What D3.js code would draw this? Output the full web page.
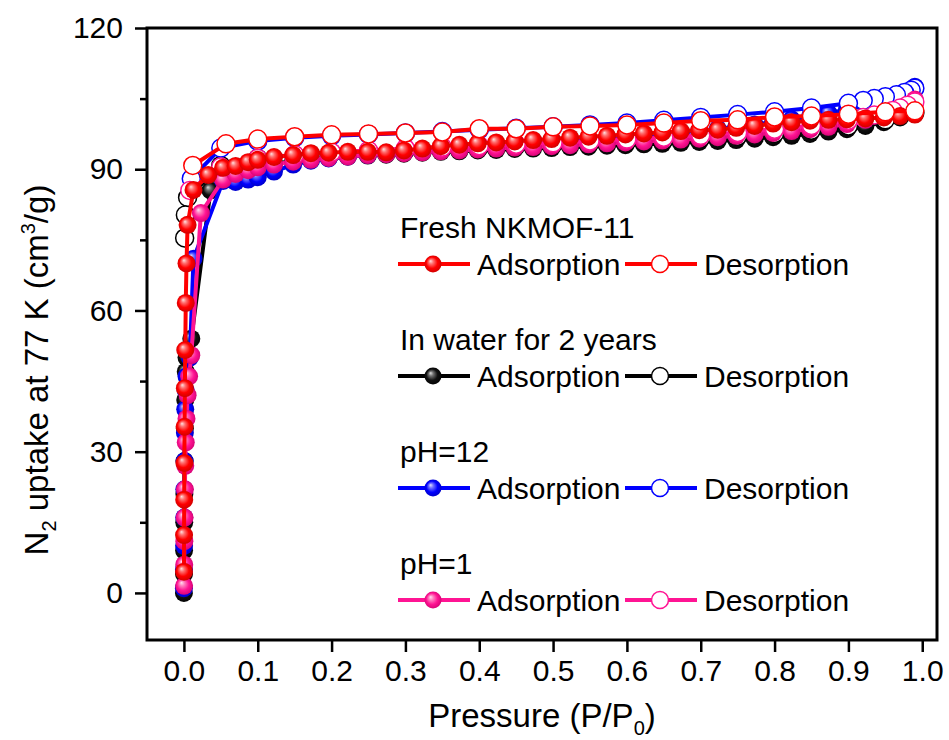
<!DOCTYPE html>
<html>
<head>
<meta charset="utf-8">
<script src="https://cdn.jsdelivr.net/npm/d3@7"></script>
<style>
  html, body { margin: 0; padding: 0; background: #fff; }
  svg { display: block; }
  text { font-family: "Liberation Sans", Arial, sans-serif; fill: #000; }
</style>
</head>
<body>
<svg id="chart" width="949" height="740"></svg>
<script>
// ---------------- DATA ----------------
const xTicks = [0.0, 0.1, 0.2, 0.3, 0.4, 0.5, 0.6, 0.7, 0.8, 0.9, 1.0];
const yTicks = [0, 30, 60, 90, 120];
const yMinorTicks = [15, 45, 75, 105];

const adsMidP = [0.053,0.07,0.087,0.1,0.122,0.148,0.172,0.196,0.222,0.249,0.274,0.298,0.323,0.348,0.373,0.398,0.423,0.448,0.473,0.498,0.523,0.548,0.573,0.598,0.623,0.648,0.673,0.698,0.723,0.748,0.773,0.798,0.823,0.848,0.873,0.898,0.923,0.948,0.97,0.99];

// Fresh NKMOF-11
const freshAdsP = [0.0001,0.0002,0.0004,0.0006,0.0009,0.0013,0.0018,0.0025,0.0035,0.005,0.013,0.033].concat(adsMidP);
const freshAdsV = [4.5,12.3,19.8,27.6,35.3,43.5,51.6,61.6,70.0,78.2,85.6,88.8,
  90.3,90.7,91.5,92.0,92.6,93.0,93.4,93.5,93.7,93.7,93.6,94.0,94.4,94.9,95.2,95.5,95.7,95.9,96.2,96.4,96.7,96.9,97.1,97.4,97.6,97.8,98.1,98.3,98.4,98.8,99.2,99.7,100.0,100.3,100.5,100.6,100.8,101.0,101.3,101.6];
const freshDesP = [0.99,0.95,0.9,0.85,0.8,0.75,0.7,0.65,0.6,0.55,0.5,0.45,0.4,0.35,0.3,0.25,0.2,0.15,0.1,0.057,0.012];
const freshDesV = [102.4,102.2,101.7,101.3,101.1,100.5,100.3,99.8,99.4,99.2,99.0,98.6,98.6,97.9,97.7,97.5,97.3,96.9,96.4,95.4,90.8];

// In water for 2 years
const waterAdsP = [0,0.0001,0.0002,0.0004,0.0006,0.0009,0.0013,0.0018,0.0025,0.0035,0.01,0.036].concat(adsMidP);
const waterAdsV = [0,4,9,15,21,28,35,41,47,50,54,85.5,
  88.0,89.0,90.0,90.6,91.2,91.7,92.1,92.4,92.7,92.9,93.1,93.3,93.5,93.7,93.8,94.0,94.1,94.3,94.4,94.5,94.7,94.8,95.0,95.1,95.3,95.4,95.6,95.8,96.0,96.2,96.5,96.8,97.1,97.5,98.0,98.5,99.2,100.0,101.0,102.0];
const waterDesP = [0.99,0.95,0.9,0.85,0.8,0.75,0.7,0.65,0.6,0.55,0.5,0.45,0.4,0.35,0.3,0.25,0.2,0.15,0.1,0.05,0.005,0.002,0.001];
const waterDesV = [102.0,100.5,99.2,98.3,97.6,97.0,96.6,96.2,95.9,95.6,95.3,95.0,94.7,94.4,94.1,93.8,93.5,93.0,92.3,90.8,84.0,80.3,75.4];

// pH=12
const ph12AdsP = [0,0.0001,0.0002,0.0004,0.0006,0.0009,0.0013,0.0018,0.0025,0.0035,0.008,0.013].concat(adsMidP);
const ph12AdsV = [1,5,10,16,22,28,34,39,43,46,50,71,
  87.5,87.3,87.8,88.3,89.5,91.0,91.8,92.3,92.7,93.0,93.3,93.6,93.9,94.2,94.5,94.8,95.0,95.3,95.5,95.8,96.0,96.3,96.6,96.9,97.2,97.5,97.8,98.2,98.6,99.0,99.5,100.0,100.6,101.2,101.9,102.7,103.6,104.6,105.8,107.5];
const ph12DesP = [0.99,0.985,0.976,0.965,0.95,0.935,0.92,0.9,0.85,0.8,0.75,0.7,0.65,0.6,0.55,0.5,0.45,0.4,0.35,0.3,0.25,0.2,0.15,0.1,0.05,0.01];
const ph12DesV = [107.2,106.8,106.3,105.8,105.4,105.0,104.6,104.0,103.0,102.2,101.6,101.0,100.4,99.8,99.4,99.0,98.7,98.4,98.0,97.7,97.4,97.1,96.7,96.0,94.5,88.0];

// pH=1
const ph1AdsP = [0.0002,0.0004,0.0006,0.0009,0.0013,0.0018,0.0025,0.0035,0.005,0.007,0.01,0.023].concat(adsMidP);
const ph1AdsV = [1.5,6,11,16,22,27,32,37,42,46,50.5,80.7,
  87.8,89.0,89.8,90.4,91.0,91.6,92.0,92.4,92.7,93.0,93.2,93.4,93.6,93.8,94.0,94.2,94.4,94.6,94.7,94.9,95.1,95.3,95.5,95.7,95.9,96.1,96.3,96.5,96.8,97.1,97.4,97.7,98.1,98.5,99.0,99.6,100.5,101.6,103.0,104.8];
const ph1DesP = [0.99,0.98,0.97,0.96,0.95,0.935,0.92,0.9,0.85,0.8,0.75,0.7,0.65,0.6,0.55,0.5,0.45,0.4,0.35,0.3,0.25,0.2,0.15,0.1,0.05,0.008];
const ph1DesV = [104.3,103.6,103.0,102.5,102.0,101.5,101.0,100.4,99.3,98.5,97.8,97.2,96.8,96.4,96.0,95.6,95.3,95.0,94.7,94.4,94.0,93.6,93.1,92.3,90.5,85.5];

const groupNames = ["Fresh NKMOF-11", "In water for 2 years", "pH=12", "pH=1"];
const groupColors = ["#ff0000", "#000000", "#0000ff", "#ff1493"];
const branchLabels = ["Adsorption", "Desorption"];

// ---------------- LAYOUT ----------------
const svg = d3.select("#chart");
const x = d3.scaleLinear().domain([-0.05, 1.02]).range([147, 937]);
const y = d3.scaleLinear().domain([-10, 120]).range([640, 28]);

// gradients
const defs = svg.append("defs");
const gradStops = {
  "#ff0000": ["#ffe0e0", "#ff7070", "#ff0000", "#c80000"],
  "#000000": ["#e0e0e0", "#707070", "#101010", "#000000"],
  "#0000ff": ["#e0e0ff", "#7070ff", "#0000ff", "#0000c0"],
  "#ff1493": ["#ffe0f0", "#ff80c0", "#ff1493", "#d00070"]
};
groupColors.forEach((c, i) => {
  const g = defs.append("radialGradient").attr("id", "g" + i)
    .attr("cx", "50%").attr("cy", "50%").attr("r", "55%")
    .attr("fx", "35%").attr("fy", "32%");
  const s = gradStops[c];
  [[0, s[0]], [0.25, s[1]], [0.6, s[2]], [1, s[3]]].forEach(([o, col]) =>
    g.append("stop").attr("offset", o).attr("stop-color", col));
});

const series = [
  { gi: 1, filled: true,  P: waterAdsP, V: waterAdsV },
  { gi: 1, filled: false, P: waterDesP, V: waterDesV },
  { gi: 2, filled: true,  P: ph12AdsP,  V: ph12AdsV },
  { gi: 2, filled: false, P: ph12DesP,  V: ph12DesV },
  { gi: 3, filled: true,  P: ph1AdsP,   V: ph1AdsV },
  { gi: 3, filled: false, P: ph1DesP,   V: ph1DesV },
  { gi: 0, filled: true,  P: freshAdsP, V: freshAdsV },
  { gi: 0, filled: false, P: freshDesP, V: freshDesV }
];

const R = 9;
const line = d3.line().x(d => x(d[0])).y(d => y(d[1]));
const plot = svg.append("g");
series.forEach(s => {
  const pts = s.P.map((p, i) => [p, s.V[i]]);
  const col = groupColors[s.gi];
  const g = plot.append("g");
  g.append("path").datum(pts).attr("d", line)
    .attr("fill", "none").attr("stroke", col).attr("stroke-width", 4)
    .attr("stroke-linejoin", "round");
  g.selectAll("circle").data(pts).join("circle")
    .attr("cx", d => x(d[0])).attr("cy", d => y(d[1])).attr("r", R)
    .attr("fill", s.filled ? `url(#g${s.gi})` : "#fff")
    .attr("stroke", s.filled ? "none" : col)
    .attr("stroke-width", 1.5);
});

// frame
svg.append("rect").attr("x", 147).attr("y", 28).attr("width", 790).attr("height", 612)
  .attr("fill", "none").attr("stroke", "#000").attr("stroke-width", 3);

// axes
const xAxis = svg.append("g").attr("transform", "translate(0,640)")
  .call(d3.axisBottom(x).tickValues(xTicks).tickSize(12).tickPadding(8).tickFormat(d3.format(".1f")));
const yAxis = svg.append("g").attr("transform", "translate(147,0)")
  .call(d3.axisLeft(y).tickValues(yTicks).tickSize(12).tickPadding(12).tickFormat(d3.format("d")));
svg.append("g").attr("transform", "translate(147,0)")
  .call(d3.axisLeft(y).tickValues(yMinorTicks).tickSize(7).tickFormat(""))
  .select(".domain").remove();
[xAxis, yAxis].forEach(a => {
  a.select(".domain").remove();
  a.selectAll(".tick text").style("font-size", "30px").style("font-family", "Liberation Sans, Arial, sans-serif").attr("fill", "#000");
});
svg.selectAll(".tick line").attr("stroke", "#000").attr("stroke-width", 2.5);

// axis titles
const xt = svg.append("text").attr("x", 542).attr("y", 727).attr("text-anchor", "middle")
  .style("font-size", "33px");
xt.append("tspan").text("Pressure (P/P");
xt.append("tspan").text("0").style("font-size", "20px").attr("dy", 8);
xt.append("tspan").text(")").attr("dy", -8);

const yt = svg.append("text").attr("transform", "translate(48,370) rotate(-90)")
  .attr("text-anchor", "middle").style("font-size", "33px");
yt.append("tspan").text("N");
yt.append("tspan").text("2").style("font-size", "20px").attr("dy", 8);
yt.append("tspan").text(" uptake at 77 K (cm").attr("dy", -8);
yt.append("tspan").text("3").style("font-size", "20px").attr("dy", -13);
yt.append("tspan").text("/g)").attr("dy", 13);

// legend
const legY0 = 238, legStep = 112;
groupNames.forEach((name, i) => {
  const gi = i;
  const top = legY0 + i * legStep;
  const lg = svg.append("g");
  lg.append("text").attr("x", 400).attr("y", top).text(name).style("font-size", "30px");
  const rowY = top + 26;
  branchLabels.forEach((lab, j) => {
    const x0 = j === 0 ? 398 : 625;
    lg.append("line").attr("x1", x0).attr("x2", x0 + 72).attr("y1", rowY).attr("y2", rowY)
      .attr("stroke", groupColors[gi]).attr("stroke-width", 4);
    lg.append("circle").attr("cx", x0 + 35).attr("cy", rowY).attr("r", 8.5)
      .attr("fill", j === 0 ? `url(#g${gi})` : "#fff")
      .attr("stroke", j === 0 ? "none" : groupColors[gi]).attr("stroke-width", 1.5);
    lg.append("text").attr("x", x0 + 79).attr("y", rowY + 11).text(lab).style("font-size", "30px");
  });
});
</script>
</body>
</html>
